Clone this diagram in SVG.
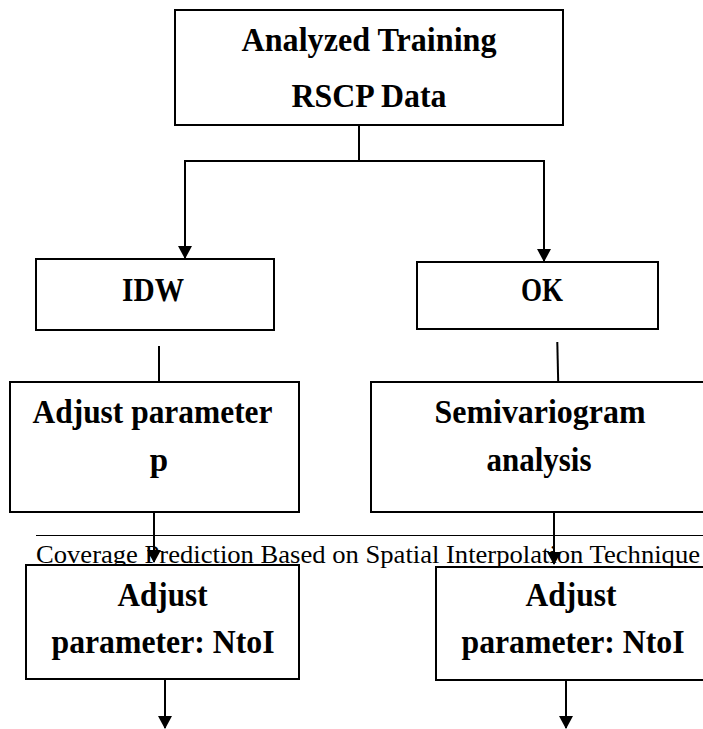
<svg xmlns="http://www.w3.org/2000/svg" width="703" height="729" viewBox="0 0 703 729">
  <style>
    .box { fill: #ffffff; stroke: #000000; stroke-width: 2; }
    .lbl { font-family: "Liberation Serif", "Times New Roman", serif; font-weight: bold; font-size: 33px; fill: #000000; text-anchor: middle; }
    .wire { fill: none; stroke: #000000; stroke-width: 2; }
    .foot { font-family: "Liberation Serif", "Times New Roman", serif; font-size: 26px; fill: #000000; }
  </style>
  <defs>
    <marker id="ah" markerUnits="userSpaceOnUse" markerWidth="13" markerHeight="14" refX="12" refY="7" orient="auto">
      <path d="M0,0 L13,7 L0,14 z" fill="#000000"/>
    </marker>
  </defs>
  <rect width="703" height="729" fill="#ffffff"/>

  <g id="footer">
    <line x1="36" y1="535.5" x2="703" y2="535.5" stroke="#000000" stroke-width="1"/>
    <text class="foot" x="36" y="563" textLength="664" lengthAdjust="spacingAndGlyphs">Coverage Prediction Based on Spatial Interpolation Technique</text>
  </g>

  <g id="node-data">
    <rect class="box" x="175" y="10" width="388" height="115"/>
    <text class="lbl" x="369" y="51" textLength="255" lengthAdjust="spacingAndGlyphs">Analyzed Training</text>
    <text class="lbl" x="369" y="107" textLength="155" lengthAdjust="spacingAndGlyphs">RSCP Data</text>
  </g>

  <g id="node-idw">
    <rect class="box" x="36" y="259" width="238" height="71"/>
    <text class="lbl" x="153" y="301" textLength="62" lengthAdjust="spacingAndGlyphs">IDW</text>
  </g>

  <g id="node-ok">
    <rect class="box" x="417" y="262" width="241" height="67"/>
    <text class="lbl" x="542" y="301" textLength="42" lengthAdjust="spacingAndGlyphs">OK</text>
  </g>

  <g id="node-adjust-p">
    <rect class="box" x="10" y="382" width="289" height="130"/>
    <text class="lbl" x="152.5" y="423" textLength="240" lengthAdjust="spacingAndGlyphs">Adjust parameter</text>
    <text class="lbl" x="159" y="471">p</text>
  </g>

  <g id="node-semivariogram">
    <rect class="box" x="371" y="382" width="340" height="130"/>
    <text class="lbl" x="540" y="423" textLength="211" lengthAdjust="spacingAndGlyphs">Semivariogram</text>
    <text class="lbl" x="539" y="471" textLength="105" lengthAdjust="spacingAndGlyphs">analysis</text>
  </g>

  <g id="node-ntoi-idw">
    <rect class="box" x="26" y="565" width="273" height="114"/>
    <text class="lbl" x="162.5" y="606" textLength="90" lengthAdjust="spacingAndGlyphs">Adjust</text>
    <text class="lbl" x="163" y="653" textLength="223" lengthAdjust="spacingAndGlyphs">parameter: NtoI</text>
  </g>

  <g id="node-ntoi-ok">
    <rect class="box" x="436" y="567" width="275" height="113"/>
    <text class="lbl" x="571" y="606" textLength="91" lengthAdjust="spacingAndGlyphs">Adjust</text>
    <text class="lbl" x="573" y="653" textLength="223" lengthAdjust="spacingAndGlyphs">parameter: NtoI</text>
  </g>

  <g id="connectors">
    <polyline class="wire" points="359,125 359,161"/>
    <polyline class="wire" points="359,161 185,161 185,258" marker-end="url(#ah)"/>
    <polyline class="wire" points="359,161 544,161 544,261" marker-end="url(#ah)"/>
    <line class="wire" x1="159" y1="346" x2="159" y2="382"/>
    <line class="wire" x1="557.3" y1="342" x2="558.2" y2="382"/>
    <line class="wire" x1="154" y1="512" x2="154" y2="562" marker-end="url(#ah)"/>
    <line class="wire" x1="554" y1="512" x2="554" y2="564" marker-end="url(#ah)"/>
    <line class="wire" x1="165" y1="679" x2="165" y2="728" marker-end="url(#ah)"/>
    <line class="wire" x1="566" y1="680" x2="566" y2="728" marker-end="url(#ah)"/>
  </g>
</svg>
